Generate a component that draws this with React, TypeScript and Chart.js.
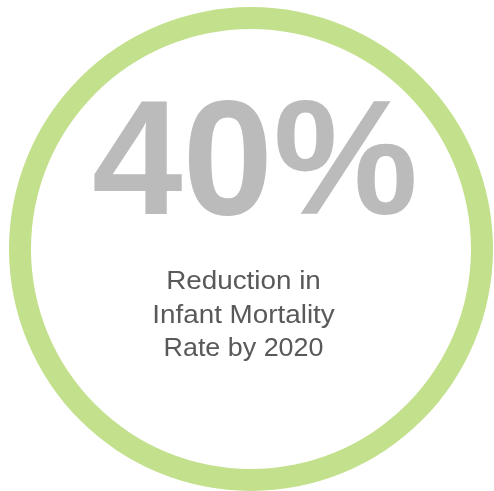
import React, { useEffect, useRef } from "react";
import { Chart, registerables } from "chart.js";

Chart.register(...registerables);

const categories = ["Reduction in Infant Mortality Rate by 2020"];
const values = [100];
const headline = "40%";
const subtitleLines = ["Reduction in", "Infant Mortality", "Rate by 2020"];

const RING = "#c3e08c";

const textPlugin = {
  id: "centerText",
  afterDraw(chart: any) {
    const ctx = chart.ctx as CanvasRenderingContext2D;
    ctx.save();
    // headline
    ctx.fillStyle = "#bbbbbb";
    ctx.font = "bold 163px 'Liberation Sans', Arial, sans-serif";
    ctx.textAlign = "center";
    ctx.textBaseline = "alphabetic";
    const w = ctx.measureText(headline).width;
    const targetW = 326;
    ctx.save();
    ctx.translate(255, 214);
    ctx.scale(targetW / w, 1);
    ctx.fillText(headline, 0, 0);
    ctx.restore();
    // subtitle
    ctx.fillStyle = "#595959";
    ctx.font = "26.5px 'Liberation Sans', Arial, sans-serif";
    const widths = [157, 190, 160];
    const baselines = [289, 323, 356];
    subtitleLines.forEach((line, i) => {
      const lw = ctx.measureText(line).width;
      ctx.save();
      ctx.translate(243.5, baselines[i]);
      ctx.scale(Math.min(1.05, widths[i] / lw), 1);
      ctx.fillText(line, 0, 0);
      ctx.restore();
    });
    ctx.restore();
  },
};

export default function App() {
  const ref = useRef<HTMLCanvasElement | null>(null);
  useEffect(() => {
    document.body.style.margin = "0";
    const chart = new Chart(ref.current as HTMLCanvasElement, {
      type: "doughnut",
      data: {
        labels: categories,
        datasets: [
          {
            data: values,
            backgroundColor: [RING],
            borderWidth: 0,
          },
        ],
      },
      options: {
        responsive: false,
        animation: false,
        cutout: 220,
        layout: { padding: { left: 9, right: 1, top: 7, bottom: 0 } },
        plugins: {
          legend: { display: false },
          tooltip: { enabled: false },
        },
      },
      plugins: [textPlugin],
    });
    return () => chart.destroy();
  }, []);
  return (
    <div style={{ width: 494, height: 491, background: "#fff" }}>
      <canvas ref={ref} width={494} height={491} style={{ display: "block" }} />
    </div>
  );
}
